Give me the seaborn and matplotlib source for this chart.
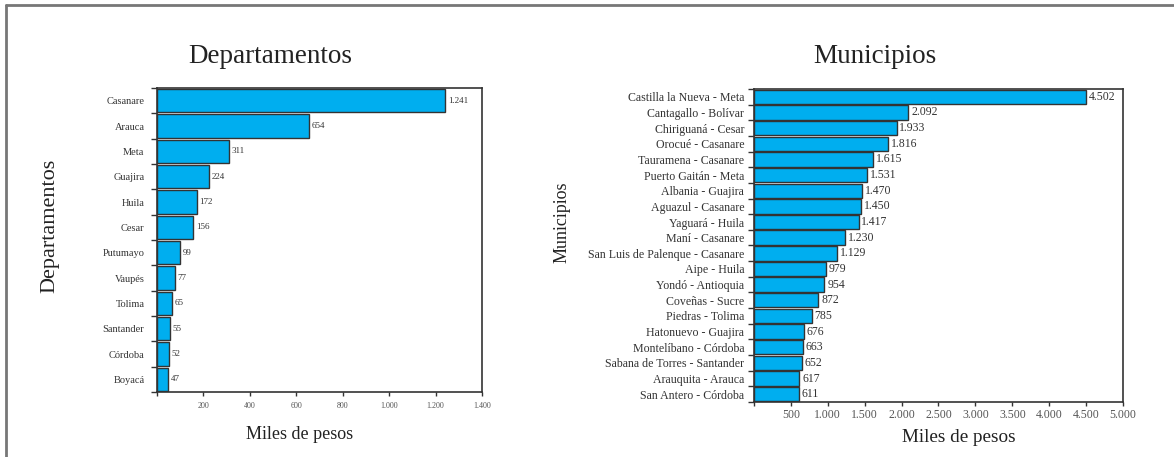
import pandas as pd
import matplotlib.pyplot as plt
import seaborn as sns
from matplotlib.lines import Line2D
from matplotlib.ticker import FuncFormatter, FixedLocator

# Datos
departamentos = ['Casanare', 'Arauca', 'Meta', 'Guajira', 'Huila', 'Cesar', 'Putumayo',
                 'Vaupés', 'Tolima', 'Santander', 'Córdoba', 'Boyacá']
valores_dep = [1241, 654, 311, 224, 172, 156, 99, 77, 65, 55, 52, 47]

municipios = ['Castilla la Nueva - Meta', 'Cantagallo - Bolívar', 'Chiriguaná - Cesar',
              'Orocué - Casanare', 'Tauramena - Casanare', 'Puerto Gaitán - Meta',
              'Albania - Guajira', 'Aguazul - Casanare', 'Yaguará - Huila', 'Maní - Casanare',
              'San Luis de Palenque - Casanare', 'Aipe - Huila', 'Yondó - Antioquia',
              'Coveñas - Sucre', 'Piedras - Tolima', 'Hatonuevo - Guajira',
              'Montelíbano - Córdoba', 'Sabana de Torres - Santander', 'Arauquita - Arauca',
              'San Antero - Córdoba']
valores_mun = [4502, 2092, 1933, 1816, 1615, 1531, 1470, 1450, 1417, 1230, 1129, 979, 954,
               872, 785, 676, 663, 652, 617, 611]

df_dep = pd.DataFrame({'nombre': departamentos, 'valor': valores_dep})
df_mun = pd.DataFrame({'nombre': municipios, 'valor': valores_mun})

sns.set_style('white')
plt.rcParams['font.family'] = ['Liberation Serif', 'DejaVu Serif']

azul = '#00AEEF'
gris = '#333333'
txt = '#333333'


def miles(v, pos=None):
    if v == 0:
        return ''
    return f'{v:,.0f}'.replace(',', '.')


def dibujar(ax, df, xmax, paso, ysize, xsize, lsize, ypad, xpad):
    sns.barplot(data=df, y='nombre', x='valor', orient='h', color=azul,
                edgecolor=gris, linewidth=1.0, width=0.92, saturation=1, ax=ax)
    n = len(df)
    ax.set_ylim(n - 0.5, -0.5)
    ax.set_xlim(0, xmax)
    ax.xaxis.set_major_locator(FixedLocator(list(range(0, xmax + 1, paso))))
    ax.xaxis.set_major_formatter(FuncFormatter(miles))
    ax.yaxis.set_minor_locator(FixedLocator([k + 0.5 for k in range(-1, n)]))
    ax.tick_params(axis='y', which='major', length=0, labelsize=ysize, labelcolor=txt, pad=ypad)
    ax.tick_params(axis='y', which='minor', left=True, length=4, width=1, color=gris)
    ax.tick_params(axis='x', which='major', bottom=True, length=3, width=1, color=gris,
                   labelsize=xsize, labelcolor='#555555', pad=xpad)
    for s in ax.spines.values():
        s.set_visible(True)
        s.set_color(gris)
        s.set_linewidth(1.2)
    etiquetas = [miles(v) for v in df['valor']]
    ax.bar_label(ax.containers[0], labels=etiquetas, padding=2, fontsize=lsize, color=txt)


fig = plt.figure(figsize=(11.74, 4.57), dpi=100)
ax1 = fig.add_axes([0.1337, 0.1422, 0.2769, 0.6652])
ax2 = fig.add_axes([0.6422, 0.1204, 0.3144, 0.6849])

dibujar(ax1, df_dep, 1400, 200, 7.5, 5.8, 6.5, 9, 4)
dibujar(ax2, df_mun, 5000, 500, 8.6, 8.5, 8.5, 7, 2)

# titulos
fig.text(270 / 1174, 1 - 63 / 457, 'Departamentos', ha='center', va='baseline',
         fontsize=19.5, color='#222222')
fig.text(875 / 1174, 1 - 63 / 457, 'Municipios', ha='center', va='baseline',
         fontsize=19.5, color='#222222')

# ejes
ax1.set_ylabel('Departamentos', fontsize=16, color='#222222')
ax1.yaxis.set_label_coords(-0.301, 0.546)
ax2.set_ylabel('Municipios', fontsize=13, color='#222222')
ax2.yaxis.set_label_coords(-0.496, 0.575)
ax1.set_xlabel('Miles de pesos', fontsize=13, color='#222222')
ax1.xaxis.set_label_coords(0.44, -0.112)
ax2.set_xlabel('Miles de pesos', fontsize=13.8, color='#222222')
ax2.xaxis.set_label_coords(0.556, -0.086)

# marco exterior (solo arriba e izquierda)
fig.add_artist(Line2D([6 / 1174, 6 / 1174], [0, 1 - 5 / 457], color='#777777', lw=2))
fig.add_artist(Line2D([6 / 1174, 1], [1 - 5 / 457, 1 - 5 / 457], color='#777777', lw=2))

plt.savefig('out.png', dpi=100)
